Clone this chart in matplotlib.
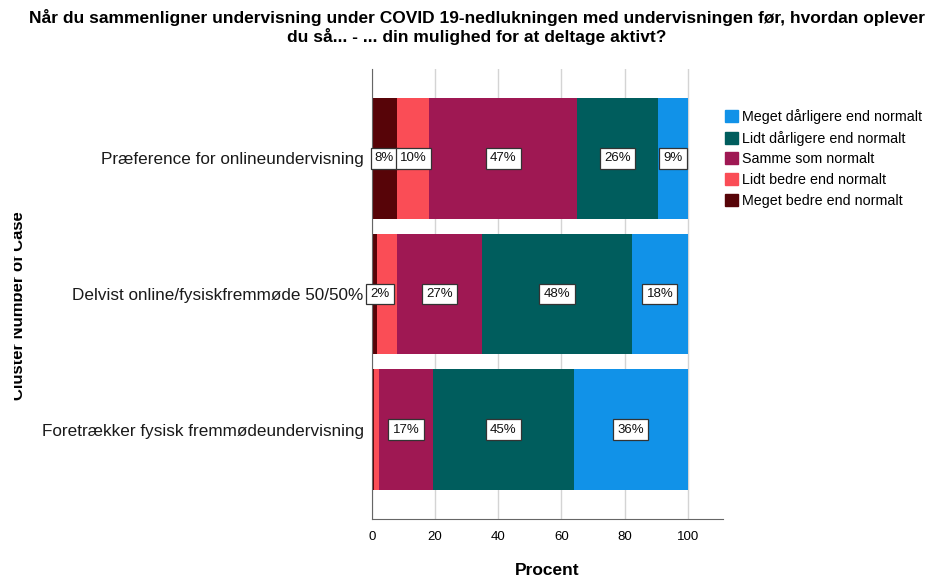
import numpy as np
import matplotlib.pyplot as plt
from matplotlib.patches import Patch
from matplotlib.transforms import Bbox, TransformedBbox

plt.rcParams['font.family'] = ['Liberation Sans', 'DejaVu Sans']

# data
grupper = ["Præference for onlineundervisning",
           "Delvist online/fysiskfremmøde 50/50%",
           "Foretrækker fysisk fremmødeundervisning"]
kategorier = ["Meget bedre end normalt", "Lidt bedre end normalt", "Samme som normalt",
              "Lidt dårligere end normalt", "Meget dårligere end normalt"]
meget_bedre = [7.9, 1.7, 0.6]
lidt_bedre = [10.3, 6.3, 1.6]
samme = [46.7, 26.8, 17.1]
lidt_darligere = [25.7, 47.6, 44.6]
meget_darligere = [9.4, 17.6, 36.1]
farver = ["#570408", "#FA4D56", "#9F1853", "#005D5D", "#1192E8"]

serier = [meget_bedre, lidt_bedre, samme, lidt_darligere, meget_darligere]

fig = plt.figure(figsize=(9.48, 5.81), dpi=100)
ax = fig.add_axes([372 / 948, 1 - 519 / 581, 351 / 948, 450 / 581])

y = np.arange(len(grupper))
venstre = np.zeros(len(grupper))
for vals, farve, navn in zip(serier, farver, kategorier):
    ax.barh(y, vals, left=venstre, height=0.89, color=farve, label=navn, zorder=2)
    venstre += np.array(vals)

# etiketter med hvid boks (skjules hvis for smal eller overlap)
for i in range(len(grupper)):
    start = 0.0
    sidste_hojre = -1e9
    for vals in serier:
        v = vals[i]
        tekst = "%.0f%%" % v
        halv = 1.7 * len(tekst) / 2 + 0.8
        midt = max(start + v / 2, halv)
        if v >= 1.65 and midt - halv > sidste_hojre:
            ax.text(midt, y[i], tekst, ha='center', va='center', fontsize=9.5, zorder=4,
                    color='#111111',
                    bbox=dict(boxstyle='square,pad=0.32', fc='white', ec='#333333', lw=0.9))
            sidste_hojre = midt + halv
        start += v

ax.set_xlim(0, 111.2)
ax.set_ylim(2.66, -0.66)
ax.set_xticks([0, 20, 40, 60, 80, 100])
ax.set_yticks(y)
ax.set_yticklabels(grupper, fontsize=12.3, color='#1a1a1a')
ax.tick_params(axis='x', length=0, labelsize=9.5, pad=9)
ax.tick_params(axis='y', length=0, pad=6)
ax.xaxis.grid(True, color='#d4d4d4', lw=1, zorder=0)
ax.set_axisbelow(True)
for s in ['top', 'right']:
    ax.spines[s].set_visible(False)
ax.spines['left'].set_color('#666666')
ax.spines['bottom'].set_color('#666666')
ax.set_xlabel("Procent", fontsize=12.5, fontweight='bold', labelpad=14)

fig.text(0.503, 1 - 27 / 581,
         "Når du sammenligner undervisning under COVID 19-nedlukningen med undervisningen før, hvordan oplever\n"
         "du så... - ... din mulighed for at deltage aktivt?",
         ha='center', va='center', fontsize=12.5, fontweight='bold', linespacing=1.1)

# y-titel, delvist afskaaret i venstre side som i originalen
klip = TransformedBbox(Bbox([[13.5 / 948, 0], [1, 1]]), fig.transFigure)
yt = fig.text(26 / 948, 1 - 306 / 581, "Cluster Number of Case", rotation=90,
              ha='right', va='center', fontsize=12, fontweight='bold')
yt.set_clip_box(klip)
yt.set_clip_on(True)

handles = [Patch(color=f, label=k) for f, k in zip(farver, kategorier)][::-1]
fig.legend(handles=handles, loc='upper left', bbox_to_anchor=(722 / 948, 1 - 106 / 581),
           frameon=False, fontsize=10.3, handlelength=0.9, handleheight=0.9,
           handletextpad=0.3, labelspacing=0.47, borderaxespad=0, borderpad=0.2)

fig.savefig("out.png", dpi=100)
